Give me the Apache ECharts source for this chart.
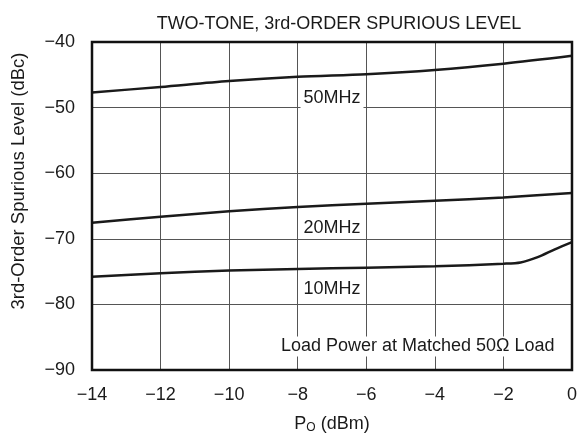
<!DOCTYPE html>
<html>
<head>
<meta charset="utf-8">
<script src="https://cdn.jsdelivr.net/npm/echarts@6/dist/echarts.min.js"></script>
<style>
  html, body { margin: 0; padding: 0; background: #fff; }
  #chart { width: 580px; height: 440px; }
</style>
</head>
<body>
<div id="chart"></div>
<script>
  // 数据 - 从图上读出来的
  const xTicks = [-14, -12, -10, -8, -6, -4, -2, 0];
  const curve50 = [-47.7, -46.85, -45.95, -45.3, -44.9, -44.25, -43.3, -42.1];
  const curve20 = [-67.55, -66.65, -65.8, -65.15, -64.65, -64.2, -63.7, -63.0];
  const x10 = [-14, -12, -10, -8, -6, -4, -2, -1.5, -1, -0.5, 0];
  const curve10 = [-75.8, -75.25, -74.85, -74.6, -74.4, -74.2, -73.8, -73.6, -72.8, -71.6, -70.5];
  const labelText = ['50MHz', '20MHz', '10MHz', 'Load Power at Matched 50\u03A9 Load'];
  const labelX = [-7, -7, -7, -4.5];
  const labelY = [-48.55, -68.3, -77.6, -86.4];

  const font = '"Liberation Sans", Arial, Helvetica, sans-serif';
  const minus = v => (v < 0 ? '\u2212' + Math.abs(v) : String(v));

  const pair = (xs, ys) => xs.map((x, i) => [x, ys[i]]);

  const chart = echarts.init(document.getElementById('chart'));
  const option = {
    backgroundColor: '#fff',
    animation: false,
    textStyle: { fontFamily: font },
    title: {
      text: 'TWO-TONE, 3rd-ORDER SPURIOUS LEVEL',
      left: 334, top: 10, textAlign: 'center',
      textStyle: { fontFamily: font, fontSize: 18, fontWeight: 'normal', color: '#1a1a1a' }
    },
    grid: {
      left: 92, right: 7, top: 42, bottom: 70,
      show: true, borderColor: '#111', borderWidth: 2.5, z: 5
    },
    // y轴名字 - 不在绘图区正中，所以单独放
    graphic: [{
      type: 'text', x: 19, y: 181, rotation: Math.PI / 2,
      style: {
        text: '3rd-Order Spurious Level (dBc)',
        font: '18.5px ' + font, fill: '#1a1a1a',
        align: 'center', verticalAlign: 'middle'
      }
    }],
    xAxis: {
      type: 'value', min: -14, max: 0, interval: 2,
      name: '{p|P}{s|O}{p| (dBm)}',
      nameLocation: 'middle', nameGap: 44,
      nameTextStyle: {
        rich: {
          p: { fontFamily: font, fontSize: 18, color: '#1a1a1a' },
          s: { fontFamily: font, fontSize: 12, color: '#1a1a1a', verticalAlign: 'bottom', padding: [8, 0, 0, 0] }
        }
      },
      axisLine: { show: false },
      axisTick: { show: false },
      axisLabel: { formatter: minus, fontFamily: font, fontSize: 18, color: '#1a1a1a', margin: 16 },
      splitLine: { show: true, lineStyle: { color: '#555', width: 1 } }
    },
    yAxis: {
      type: 'value', min: -90, max: -40, interval: 10,
      axisLine: { show: false },
      axisTick: { show: false },
      axisLabel: { formatter: minus, fontFamily: font, fontSize: 18, color: '#1a1a1a', margin: 17 },
      splitLine: { show: true, lineStyle: { color: '#555', width: 1 } }
    },
    series: [
      {
        type: 'line', data: pair(xTicks, curve50), showSymbol: false, smooth: 0.3,
        lineStyle: { color: '#1a1a1a', width: 2.5 }, z: 3
      },
      {
        type: 'line', data: pair(xTicks, curve20), showSymbol: false, smooth: 0.3,
        lineStyle: { color: '#1a1a1a', width: 2.5 }, z: 3
      },
      {
        type: 'line', data: pair(x10, curve10), showSymbol: false, smooth: 0.3,
        lineStyle: { color: '#1a1a1a', width: 2.5 }, z: 3
      },
      {
        // 曲线上的文字 - scatter默认透明度0.8，会让文字发灰
        type: 'scatter', symbolSize: 0, z: 4,
        itemStyle: { color: '#fff', opacity: 1 },
        data: labelText.map((t, i) => ({ value: [labelX[i], labelY[i]], name: t })),
        label: {
          show: true, position: 'inside', formatter: p => p.name,
          fontFamily: font, fontSize: 18, color: '#1a1a1a',
          textBorderWidth: 0, textBorderColor: 'transparent',
          backgroundColor: '#fff', padding: [1, 3]
        }
      }
    ]
  };
  chart.setOption(option);
</script>
</body>
</html>
